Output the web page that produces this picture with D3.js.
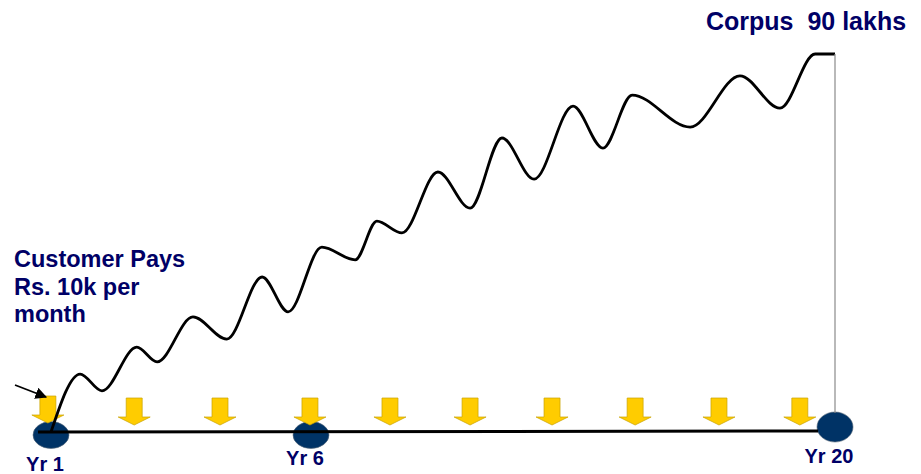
<!DOCTYPE html>
<html>
<head>
<meta charset="utf-8">
<script src="https://cdn.jsdelivr.net/npm/d3@7"></script>
<style>
	body { margin: 0; background: #fff; }
	svg { display: block; font-family: "Liberation Sans", Arial, sans-serif; }
</style>
</head>
<body>
<div id="chart"></div>
<script>
// wave of the corpus growing, year on the timeline vs value in lakhs
var waveYears = [1.0, 1.56, 1.98, 2.65, 3.04, 3.73, 4.38, 5.06, 5.56, 6.29, 7.18, 7.76, 8.43, 9.39, 10.25, 11.10, 11.96, 13.00, 13.80, 14.58, 16.13, 17.46, 18.53, 19.47, 20.0];
var waveLakhs = [0, 13.8, 9.8, 20.2, 16.7, 27.4, 22.1, 36.9, 28.6, 44.0, 41.0, 50.2, 47.4, 61.9, 53.3, 70.0, 60.2, 77.6, 67.6, 80.2, 72.6, 84.8, 77.1, 90, 90];

// monthly payment arrows along the timeline
var arrowYears = [0.94, 2.60, 4.25, 5.98, 8.11, 10.25, 12.44, 14.66, 16.90, 19.06];

var milestoneYears = [1, 6, 20];
var milestoneLabels = ["Yr 1", "Yr 6", "Yr 20"];

var noteLines = ["Customer Pays", "Rs. 10k per", "month"];
var corpusLabel = "Corpus  90 lakhs";
var corpusValue = 90;

var width = 921, height = 474;
var navy = "#000066";

var svg = d3.select("#chart").append("svg")
	.attr("width", width)
	.attr("height", height);

// the timeline is not to scale, so Yr 1 -> Yr 6 is wider than later years
var x = d3.scaleLinear().domain([1, 6, 20]).range([51, 311, 835]);
var y = d3.scaleLinear().domain([0, corpusValue]).range([432, 54]);

var defs = svg.append("defs");
defs.append("marker")
	.attr("id", "head")
	.attr("viewBox", "0 0 10 10")
	.attr("refX", 9)
	.attr("refY", 5)
	.attr("markerWidth", 6.5)
	.attr("markerHeight", 6.5)
	.attr("orient", "auto")
	.append("path")
	.attr("d", "M0,0L10,5L0,10z")
	.attr("fill", "#000");

// milestone dots
svg.selectAll(".milestone")
	.data(milestoneYears)
	.enter().append("ellipse")
	.attr("class", "milestone")
	.attr("cx", d => x(d))
	.attr("cy", (d, i) => i === milestoneYears.length - 1 ? y(0) - 5 : y(0) + 3)
	.attr("rx", 18)
	.attr("ry", (d, i) => i === milestoneYears.length - 1 ? 15 : 13.5)
	.attr("fill", "#003366")
	.attr("stroke", "#556677")
	.attr("stroke-width", 0.6);

// baseline
svg.append("line")
	.attr("x1", x(0.75))
	.attr("x2", x(19.55))
	.attr("y1", y(0))
	.attr("y2", y(0) - 1)
	.attr("stroke", "#000")
	.attr("stroke-width", 3);

// payment arrows
var arrowPath = "M-8,0L8,0L8,19L16,19L0,27L-16,19L-8,19Z";
svg.selectAll(".pay")
	.data(arrowYears)
	.enter().append("path")
	.attr("class", "pay")
	.attr("d", arrowPath)
	.attr("transform", (d, i) => "translate(" + x(d) + "," + (i === 0 ? 396 : 398) + ")")
	.attr("fill", "#ffcc00")
	.attr("stroke", "#c9a200")
	.attr("stroke-width", 0.7);

// corpus wave
var line = d3.line()
	.x(d => x(d[0]))
	.y(d => y(d[1]))
	.curve(d3.curveMonotoneX);

svg.append("path")
	.datum(d3.zip(waveYears, waveLakhs))
	.attr("d", line)
	.attr("fill", "none")
	.attr("stroke", "#000")
	.attr("stroke-width", 2.8)
	.attr("stroke-linejoin", "round");

// drop line from the corpus down to Yr 20
svg.append("line")
	.attr("x1", x(20))
	.attr("x2", x(20))
	.attr("y1", y(corpusValue))
	.attr("y2", y(0) - 19)
	.attr("stroke", "#8a8a8a")
	.attr("stroke-width", 1.2);

// pointer to the first payment
svg.append("line")
	.attr("x1", 15)
	.attr("y1", 385)
	.attr("x2", 46)
	.attr("y2", 397)
	.attr("stroke", "#000")
	.attr("stroke-width", 1.8)
	.attr("marker-end", "url(#head)");

// labels
svg.selectAll(".yr")
	.data(milestoneYears)
	.enter().append("text")
	.attr("class", "yr")
	.attr("x", d => x(d) - 6)
	.attr("y", (d, i) => [471, 465, 463][i])
	.attr("text-anchor", "middle")
	.attr("font-size", 20)
	.attr("font-weight", "bold")
	.attr("fill", navy)
	.text((d, i) => milestoneLabels[i]);

svg.append("text")
	.selectAll("tspan")
	.data(noteLines)
	.enter().append("tspan")
	.attr("x", 14)
	.attr("y", (d, i) => 267 + i * 27.5)
	.attr("font-size", 23.5)
	.attr("font-weight", "bold")
	.attr("fill", navy)
	.text(d => d);

svg.append("text")
	.attr("x", 706)
	.attr("y", 30)
	.attr("font-size", 25)
	.attr("font-weight", "bold")
	.attr("fill", navy)
	.style("white-space", "pre")
	.text(corpusLabel);
</script>
</body>
</html>
